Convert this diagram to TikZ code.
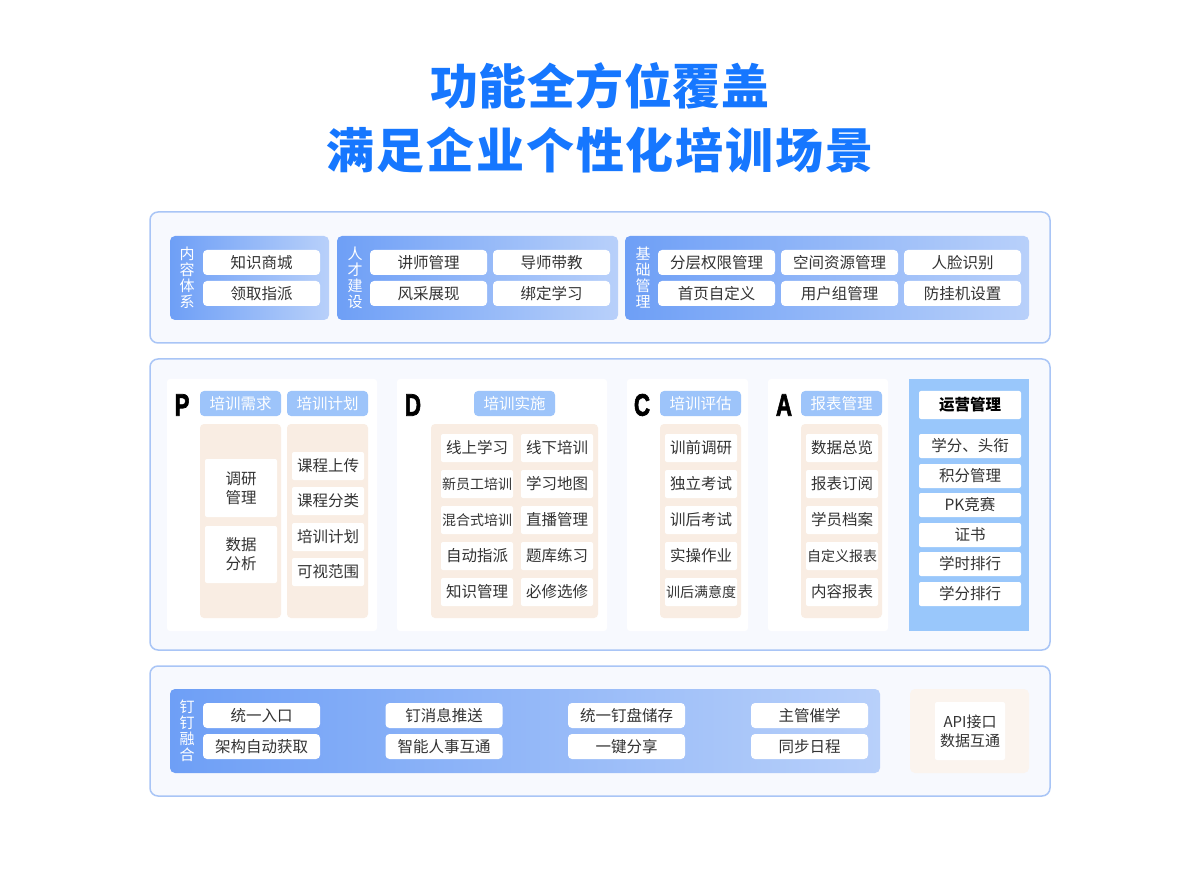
\documentclass[tikz,border=0pt]{standalone}
\usepackage{fontspec}
\setmainfont{Noto Sans CJK SC}
\newfontfamily\letterfont{Liberation Sans}[BoldFeatures={FakeBold=2.5}]
\usepackage{xcolor}
\usepackage{graphicx}
\usepackage{tikz}
\definecolor{titleblue}{HTML}{1677FF}
\definecolor{panelline}{HTML}{A9C5F6}
\definecolor{panelfill}{HTML}{F7F9FE}
\definecolor{gradleft}{HTML}{6E9FF6}
\definecolor{gradright}{HTML}{B8D0FA}
\definecolor{tagblue}{HTML}{9DC4FA}
\definecolor{beige}{HTML}{F9EDE3}
\definecolor{opsblue}{HTML}{99C7FB}
\definecolor{textgray}{HTML}{333333}
\tikzstyle{panel}=[rectangle,rounded corners=8pt,draw=panelline,line width=1.5pt,fill=panelfill,inner sep=0pt,minimum width=900pt]
\tikzstyle{gradgroup}=[rectangle,rounded corners=5pt,left color=gradleft,right color=gradright,inner sep=0pt,minimum height=84pt]
\tikzstyle{sidetext}=[text=white,align=center,inner sep=0pt,font=\fontsize{15}{16}\selectfont]
\tikzstyle{item}=[rectangle,rounded corners=4pt,fill=white,text=textgray,inner sep=0pt,minimum width=117pt,minimum height=25pt,font=\fontsize{15.5}{15.5}\selectfont]
\tikzstyle{card}=[rectangle,rounded corners=3pt,fill=white,inner sep=0pt,minimum height=252pt]
\tikzstyle{tag}=[rectangle,rounded corners=4pt,fill=tagblue,text=white,inner sep=0pt,minimum width=81pt,minimum height=25pt,font=\fontsize{15.5}{15.5}\selectfont]
\tikzstyle{beigecol}=[rectangle,rounded corners=4pt,fill=beige,inner sep=0pt,minimum height=194pt]
\tikzstyle{cell}=[rectangle,rounded corners=2pt,fill=white,text=textgray,inner sep=0pt,minimum width=72pt,minimum height=28pt,align=center,font=\fontsize{15.5}{19}\selectfont]
\tikzstyle{smallcell}=[cell,font=\fontsize{14}{14}\selectfont]
\tikzstyle{opsitem}=[cell,minimum width=102pt,minimum height=24pt]
\tikzstyle{phaseletter}=[inner sep=0pt,text=black,font=\letterfont\bfseries\fontsize{31}{31}\selectfont]
\newcommand{\narrow}[1]{\scalebox{0.72}[1]{#1}}

\begin{document}
\begin{tikzpicture}[x=1pt,y=-1pt]
        \useasboundingbox (0,0) rectangle (1200,885);
        \fill[white] (0,0) rectangle (1200,885);

        % title
        \node at (600,86) [text=titleblue,font=\fontsize{48}{48}\selectfont\bfseries\addfontfeature{LetterSpace=1}] (title1) {功能全方位覆盖};
        \node at (600,150) [text=titleblue,font=\fontsize{48}{48}\selectfont\bfseries\addfontfeature{LetterSpace=4}] (title2) {满足企业个性化培训场景};

        % top panel
        \node at (600,277.5) [panel,minimum height=131pt] (top) {};
        \node at (249.5,278) [gradgroup,minimum width=159pt] (content) {};
        \node at (187,278) [sidetext] (contentlbl) {内\\容\\体\\系};
        \node at (261.5,262.5) [item] (mall) {知识商城};
        \node at (261.5,293.5) [item] (assign) {领取指派};

        \node at (477.5,278) [gradgroup,minimum width=281pt] (talent) {};
        \node at (355,278) [sidetext] (talentlbl) {人\\才\\建\\设};
        \node at (428.5,262.5) [item] (lecturer) {讲师管理};
        \node at (551.5,262.5) [item] (mentor) {导师带教};
        \node at (428.5,293.5) [item] (show) {风采展现};
        \node at (551.5,293.5) [item] (bind) {绑定学习};

        \node at (827,278) [gradgroup,minimum width=404pt] (base) {};
        \node at (643,278) [sidetext] (baselbl) {基\\础\\管\\理};
        \node at (716.5,262.5) [item] (rights) {分层权限管理};
        \node at (839.5,262.5) [item] (space) {空间资源管理};
        \node at (962.5,262.5) [item] (face) {人脸识别};
        \node at (716.5,293.5) [item] (home) {首页自定义};
        \node at (839.5,293.5) [item] (usergrp) {用户组管理};
        \node at (962.5,293.5) [item] (idle) {防挂机设置};

        % middle panel
        \node at (600,504.5) [panel,minimum height=291pt] (mid) {};

        % P
        \node at (272,505) [card,minimum width=210pt] (pcard) {};
        \node at (182,405) [phaseletter] (pletter) {\narrow{P}};
        \node at (240.5,403.5) [tag] (need) {培训需求};
        \node at (327.5,403.5) [tag] (plan) {培训计划};
        \node at (240.5,521) [beigecol,minimum width=81pt] (needcol) {};
        \node at (327.5,521) [beigecol,minimum width=81pt] (plancol) {};
        \node at (241,488) [cell,minimum height=58pt] (survey) {调研\\管理};
        \node at (241,554.5) [cell,minimum height=57pt] (analysis) {数据\\分析};
        \node at (328,466) [cell] (upload) {课程上传};
        \node at (328,501) [cell] (sort) {课程分类};
        \node at (328,537) [cell] (plan2) {培训计划};
        \node at (328,572) [cell] (scope) {可视范围};

        % D
        \node at (502,505) [card,minimum width=210pt] (dcard) {};
        \node at (413,405) [phaseletter] (dletter) {\narrow{D}};
        \node at (514.5,403.5) [tag] (run) {培训实施};
        \node at (514.5,521) [beigecol,minimum width=167pt] (runcol) {};
        \node at (477,448) [cell] (online) {线上学习};
        \node at (557,448) [cell] (offline) {线下培训};
        \node at (477,484) [smallcell] (newhire) {新员工培训};
        \node at (557,484) [cell] (map) {学习地图};
        \node at (477,520) [smallcell] (mixed) {混合式培训};
        \node at (557,520) [cell] (live) {直播管理};
        \node at (477,556) [cell] (auto) {自动指派};
        \node at (557,556) [cell] (bank) {题库练习};
        \node at (477,592) [cell] (know) {知识管理};
        \node at (557,592) [cell] (elective) {必修选修};

        % C
        \node at (687.5,505) [card,minimum width=121pt] (ccard) {};
        \node at (642,405) [phaseletter] (cletter) {\narrow{C}};
        \node at (700.5,403.5) [tag] (eval) {培训评估};
        \node at (700.5,521) [beigecol,minimum width=81pt] (evalcol) {};
        \node at (701,448) [cell] (pre) {训前调研};
        \node at (701,484) [cell] (exam) {独立考试};
        \node at (701,520) [cell] (post) {训后考试};
        \node at (701,556) [cell] (task) {实操作业};
        \node at (701,592) [smallcell] (satisfy) {训后满意度};

        % A
        \node at (828,505) [card,minimum width=120pt] (acard) {};
        \node at (784,405) [phaseletter] (aletter) {\narrow{A}};
        \node at (841.5,403.5) [tag] (report) {报表管理};
        \node at (841.5,521) [beigecol,minimum width=81pt] (reportcol) {};
        \node at (842,448) [cell] (overview) {数据总览};
        \node at (842,484) [cell] (subscribe) {报表订阅};
        \node at (842,520) [cell] (archive) {学员档案};
        \node at (842,556) [smallcell] (custom) {自定义报表};
        \node at (842,592) [cell] (contentrep) {内容报表};

        % ops
        \node at (969,505) [rectangle,fill=opsblue,inner sep=0pt,minimum width=120pt,minimum height=252pt] (ops) {};
        \node at (970,405) [cell,minimum width=102pt,font=\fontsize{15.5}{15.5}\selectfont\bfseries,text=black] (opshead) {运营管理};
        \node at (970,446) [opsitem] (credit) {学分、头衔};
        \node at (970,476) [opsitem] (points) {积分管理};
        \node at (970,505) [opsitem] (pk) {PK竞赛};
        \node at (970,535) [opsitem] (cert) {证书};
        \node at (970,564) [opsitem] (hours) {学时排行};
        \node at (970,594) [opsitem] (rank) {学分排行};

        % bottom panel
        \node at (600,731) [panel,minimum height=130pt] (bottom) {};
        \node at (525,731) [gradgroup,minimum width=710pt] (ding) {};
        \node at (187,731) [sidetext] (dinglbl) {钉\\钉\\融\\合};
        \node at (261.5,715.5) [item] (entry) {统一入口};
        \node at (261.5,746.5) [item] (org) {架构自动获取};
        \node at (444,715.5) [item] (msg) {钉消息推送};
        \node at (444,746.5) [item] (hr) {智能人事互通};
        \node at (626.5,715.5) [item] (disk) {统一钉盘储存};
        \node at (626.5,746.5) [item] (share) {一键分享};
        \node at (809.5,715.5) [item] (urge) {主管催学};
        \node at (809.5,746.5) [item] (sched) {同步日程};
        \node at (969.5,731) [rectangle,rounded corners=5pt,fill=beige!60,inner sep=0pt,minimum width=119pt,minimum height=84pt] (apibox) {};
        \node at (970,731) [cell,minimum width=70pt,minimum height=58pt,font=\fontsize{15}{19}\selectfont] (api) {API接口\\数据互通};
      \end{tikzpicture}
\end{document}
